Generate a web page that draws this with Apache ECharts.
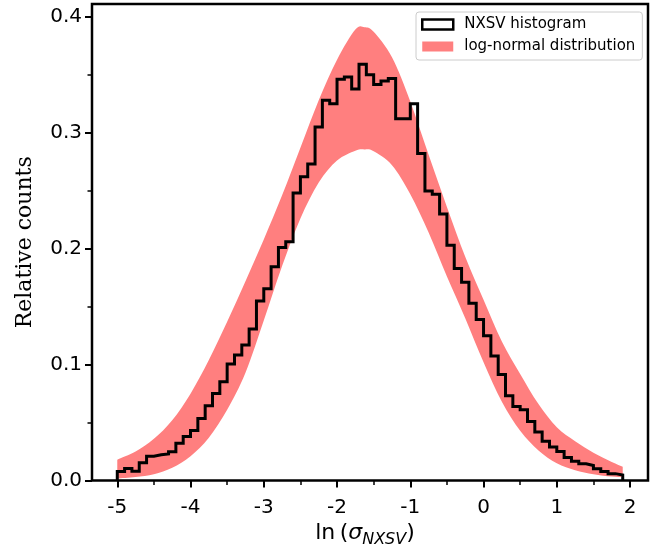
<!DOCTYPE html>
<html>
<head>
<meta charset="utf-8">
<script src="https://cdn.jsdelivr.net/npm/echarts@6/dist/echarts.min.js"></script>
<style>
html,body{margin:0;padding:0;background:#fff;}
#chart{width:665px;height:553px;}
</style>
</head>
<body>
<div id="chart"></div>
<script>
// ---- data ----
const xTickValues = [-5, -4, -3, -2, -1, 0, 1, 2];
const xMinorTickValues = [-4.5, -3.5, -2.5, -1.5, -0.5, 0.5, 1.5];
const yTickValues = [0, 0.1, 0.2, 0.3, 0.4];
const yMinorTickValues = [0.05, 0.15, 0.25, 0.35];

// histogram: 69 bins of width 0.1 starting at -5.0
const histStart = -5.0;
const histBinWidth = 0.1;
const histCounts = [
  0.0078, 0.0105, 0.0080, 0.0155, 0.0210, 0.0222, 0.0230, 0.0248, 0.0322, 0.0380,
  0.0432, 0.0536, 0.0645, 0.0752, 0.0853, 0.1005, 0.1083, 0.1170, 0.1307, 0.1548,
  0.1655, 0.1845, 0.2010, 0.2060, 0.2480, 0.2620, 0.2730, 0.3050, 0.3280, 0.3250,
  0.3460, 0.3480, 0.3376, 0.3590, 0.3500, 0.3415, 0.3447, 0.3467, 0.3120, 0.3120,
  0.3250, 0.2820, 0.2497, 0.2470, 0.2299, 0.2030, 0.1830, 0.1710, 0.1530, 0.1390,
  0.1250, 0.1074, 0.0916, 0.0731, 0.0640, 0.0612, 0.0510, 0.0420, 0.0340, 0.0290,
  0.0250, 0.0200, 0.0167, 0.0145, 0.0130, 0.0102, 0.0078, 0.0060, 0.0048
];

// log-normal band (upper / lower edges)
const bandX = [-5.0, -4.75, -4.5, -4.25, -4.0, -3.75, -3.5, -3.25, -3.0, -2.75,
  -2.5, -2.25, -2.0, -1.75, -1.625, -1.5, -1.25, -1.0, -0.75, -0.5,
  -0.25, 0, 0.25, 0.5, 0.75, 1.0, 1.25, 1.5, 1.75, 1.9];
const bandUpper = [0.018, 0.025, 0.036, 0.052, 0.075, 0.104, 0.137, 0.172, 0.208, 0.246,
  0.287, 0.328, 0.363, 0.389, 0.391, 0.387, 0.365, 0.327, 0.281, 0.236,
  0.193, 0.156, 0.120, 0.092, 0.066, 0.046, 0.034, 0.024, 0.016, 0.012];
const bandLower = [0.0017, 0.003, 0.0055, 0.011, 0.021, 0.037, 0.061, 0.093, 0.138, 0.185,
  0.226, 0.257, 0.276, 0.2845, 0.2856, 0.284, 0.272, 0.247, 0.214, 0.176,
  0.140, 0.102, 0.068, 0.043, 0.026, 0.015, 0.009, 0.0055, 0.0035, 0.003];

const xMin = -5.345, xMax = 2.245;
const yMin = 0, yMax = 0.411;

// ---- build library inputs ----
const histPts = [];
const edge = i => Math.round((histStart + i * histBinWidth) * 1e6) / 1e6;
histPts.push([edge(0), 0]);
histCounts.forEach((v, i) => { histPts.push([edge(i), v]); histPts.push([edge(i + 1), v]); });
histPts.push([edge(histCounts.length), 0]);

const bandData = bandX.map((x, i) => [x, bandLower[i], bandUpper[i]]);

const PINK = '#ff7f7f';
const FONT = 'DejaVu Sans';

// Catmull-Rom chain through pixel points -> SVG path commands
function chainPath(pts, start) {
  let d = start ? 'M' + pts[0][0] + ' ' + pts[0][1] : 'L' + pts[0][0] + ' ' + pts[0][1];
  for (let i = 0; i < pts.length - 1; i++) {
    const p0 = pts[Math.max(i - 1, 0)], p1 = pts[i], p2 = pts[i + 1], p3 = pts[Math.min(i + 2, pts.length - 1)];
    const c1 = [p1[0] + (p2[0] - p0[0]) / 6, p1[1] + (p2[1] - p0[1]) / 6];
    const c2 = [p2[0] - (p3[0] - p1[0]) / 6, p2[1] - (p3[1] - p1[1]) / 6];
    d += ' C' + c1[0] + ' ' + c1[1] + ' ' + c2[0] + ' ' + c2[1] + ' ' + p2[0] + ' ' + p2[1];
  }
  return d;
}

function renderBand(params, api) {
  if (params.dataIndex !== 0) return null;
  const up = bandData.map(r => api.coord([r[0], r[2]]));
  const lo = bandData.map(r => api.coord([r[0], r[1]])).reverse();
  const d = chainPath(up, true) + ' ' + chainPath(lo, false) + ' Z';
  return {
    type: 'path',
    shape: {pathData: d},
    style: {fill: PINK, stroke: null}
  };
}

const chart = echarts.init(document.getElementById('chart'), null, {renderer: 'canvas'});
chart.setOption({
  animation: false,
  backgroundColor: '#ffffff',
  grid: {left: 92, top: 4, width: 556, height: 483, show: true, borderColor: '#000', borderWidth: 2.5, backgroundColor: 'transparent'},
  legend: {
    left: 416, top: 12, orient: 'vertical', selectedMode: false,
    itemWidth: 31, itemHeight: 10, itemGap: 7,
    padding: [5, 7, 6, 5],
    borderColor: '#cccccc', borderWidth: 1, borderRadius: 3,
    backgroundColor: 'rgba(255,255,255,0.8)',
    textStyle: {fontFamily: FONT, fontSize: 15, color: '#000', padding: [0, 0, 0, 6]},
    data: [
      {name: 'NXSV histogram', icon: 'rect', itemStyle: {color: '#ffffff', borderColor: '#000', borderWidth: 2.5}},
      {name: 'log-normal distribution', icon: 'rect', itemStyle: {color: PINK, borderWidth: 0}}
    ]
  },
  xAxis: [
    {
      type: 'value', min: xMin, max: xMax, position: 'bottom',
      axisLine: {show: false, onZero: false}, splitLine: {show: false},
      axisTick: {show: true, customValues: xTickValues, length: 7, lineStyle: {color: '#000', width: 2}},
      axisLabel: {customValues: xTickValues, margin: 17, color: '#000', fontFamily: FONT, fontSize: 20,
        formatter: v => String(v)},
      name: '{r|ln\u2009(}{i|σ}{s|NXSV}{e|)}',
      nameLocation: 'middle', nameGap: 33,
      nameTextStyle: {
        color: '#000', fontFamily: FONT, fontSize: 22,
        rich: {
          r: {fontFamily: FONT, fontSize: 22, color: '#000', lineHeight: 29, verticalAlign: 'middle'},
          i: {fontFamily: FONT, fontSize: 22, fontStyle: 'italic', color: '#000', lineHeight: 29, verticalAlign: 'middle'},
          s: {fontFamily: FONT, fontSize: 16, fontStyle: 'italic', color: '#000', lineHeight: 16, verticalAlign: 'bottom'},
          e: {fontFamily: FONT, fontSize: 22, color: '#000', lineHeight: 29, verticalAlign: 'middle', padding: [0, 10, 0, 0]}
        }
      }
    },
    {
      type: 'value', min: xMin, max: xMax, position: 'bottom',
      axisLine: {show: false, onZero: false}, splitLine: {show: false}, axisLabel: {show: false},
      axisTick: {show: true, customValues: xMinorTickValues, length: 4.5, lineStyle: {color: '#000', width: 1.5}}
    }
  ],
  yAxis: [
    {
      type: 'value', min: yMin, max: yMax, position: 'left',
      axisLine: {show: false, onZero: false}, splitLine: {show: false},
      axisTick: {show: true, customValues: yTickValues, length: 7, lineStyle: {color: '#000', width: 2}},
      axisLabel: {customValues: yTickValues, margin: 10, color: '#000', fontFamily: FONT, fontSize: 20,
        formatter: v => v.toFixed(1)},
      name: 'Relative counts', nameLocation: 'middle', nameGap: 56, nameRotate: 90,
      nameTextStyle: {color: '#000', fontFamily: 'DejaVu Serif', fontSize: 22}
    },
    {
      type: 'value', min: yMin, max: yMax, position: 'left',
      axisLine: {show: false, onZero: false}, splitLine: {show: false}, axisLabel: {show: false},
      axisTick: {show: true, customValues: yMinorTickValues, length: 4.5, lineStyle: {color: '#000', width: 1.5}}
    }
  ],
  series: [
    {
      type: 'custom', name: 'log-normal distribution', data: bandData,
      renderItem: renderBand, silent: true, clip: true,
      itemStyle: {color: PINK}, z: 2,
      encode: {x: 0, y: [1, 2]}
    },
    {
      type: 'line', name: 'NXSV histogram', data: histPts,
      symbol: 'none', showSymbol: false, silent: true,
      lineStyle: {color: '#000', width: 3, join: 'miter', cap: 'butt'},
      itemStyle: {color: '#000'}, z: 5
    }
  ]
});
</script>
</body>
</html>
